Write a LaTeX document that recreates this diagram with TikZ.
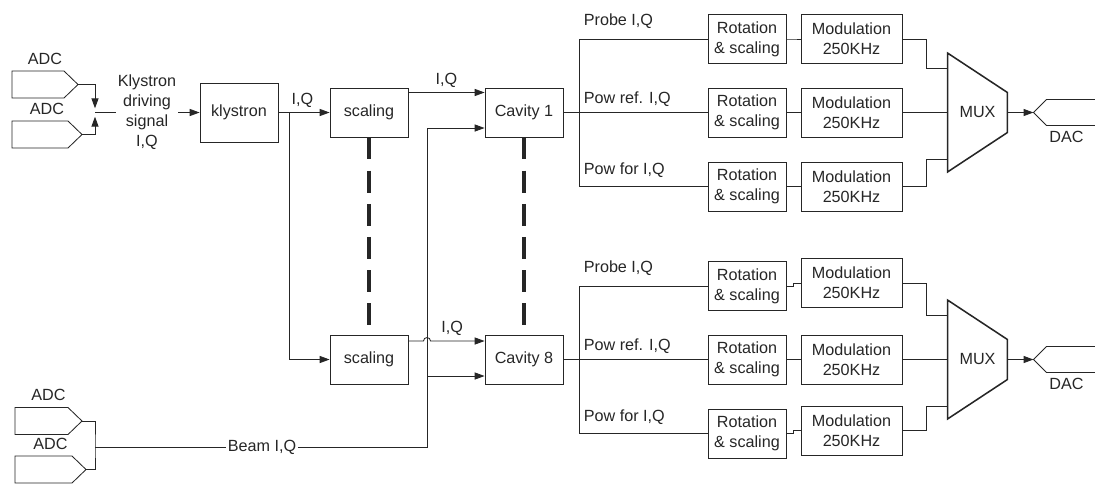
\documentclass[tikz,border=0pt]{standalone}
\usepackage{fontspec}
\setmainfont{Liberation Sans}
\usetikzlibrary{arrows.meta,positioning,calc}
\begin{document}
\begin{tikzpicture}[>={Triangle[length=7pt,width=5pt]},x=0.025cm,y=-0.025cm,font=\fontsize{11.5}{14.2}\selectfont,line width=0.6pt,color=black!85]
\tikzstyle{b}=[draw,align=center,minimum width=1.95cm,minimum height=1.225cm,inner sep=1pt]
\tikzstyle{rot}=[b,minimum width=1.95cm]
\tikzstyle{mod}=[b,minimum width=2.525cm]
\tikzstyle{dsh}=[line width=2.4pt,dash pattern=on 15.6pt off 8pt]
\tikzstyle{lbl}=[inner sep=1pt]
\useasboundingbox (0,0) rectangle (1095,483);
\foreach \n/\x/\y/\p in {1/12/84.5/78,2/12/134.5/82,3/15/421/82,4/15/469.5/86} {
  \draw (\x,\y-13.5) -- (\p-14,\y-13.5) -- (\p,\y) -- (\p-14,\y+13.5) -- (\x,\y+13.5) -- cycle;
  \coordinate (adc\n) at (\p,\y);
  \node (adcl\n) at ({(\x+\p)/2},\y-26) {ADC};
}
\coordinate (jk) at (95,112.5);
\coordinate (jb) at (95,447);
\draw[->,shorten >=3pt] (adc1) -| (jk);
\draw[->,shorten >=3pt] (adc2) -| (jk);
\node[lbl,align=center] (drv) at (147,112.5) {Klystron\\driving\\signal\\I,Q};
\draw (jk) -- (drv.west);
\node[b,minimum height=1.475cm] (kly) at (239,112.5) {klystron};
\draw[->] (drv.east) -- (kly.west);
\node[b] (sc1) at (369,112.5) {scaling};
\node[b] (sc8) at (369,359.5) {scaling};
\node[b] (cav1) at (524,112.5) {Cavity 1};
\node[b] (cav8) at (524,359.5) {Cavity 8};
\draw[->] (kly.east) -- node[above,pos=0.47] (lq1) {I,Q} (sc1.west);
\coordinate (jb1) at (289,112.5);
\draw[->] (jb1) |- (sc8.west);
\draw[->] ([yshift=-3.5pt]sc1.north east) -- node[above] (lq2) {I,Q} ([yshift=-3.5pt]cav1.north west);
\node[lbl] (beam) at (262,447) {Beam I,Q};
\draw (adc3) -| (jb) |- (adc4);
\draw (jb) -- (beam.west);
\coordinate (bv) at (427,128);
\coordinate (b8) at (427,376);
\coordinate (hop) at (427,341);
\draw (beam.east) -| (bv);
\draw[->] (bv) -- (cav1.west |- bv);
\draw[->] (b8) -- (cav8.west |- b8);
\draw[->] (sc8.east |- hop) -- ([xshift=-2.5pt]hop) arc[start angle=180,end angle=0,radius=2.5pt] -- node[above,pos=0.4] (lq3) {I,Q} (cav8.west |- hop);
\draw[dsh] (sc1.south) -- (sc8.north);
\draw[dsh] (cav1.south) -- (cav8.north);
\foreach \k/\o/\j in {1/0/0,8/247/3} {
  \foreach \r/\dy/\t/\ly/\jj in {1/-73.5/{Probe I,Q}/-18/1,2/0/{Pow ref. I,Q}/-13/0,3/74/{Pow for I,Q}/-16/1} {
    \node[rot] (rot\k\r) at (747,{112.5+\o+(\dy)}) {Rotation\\\& scaling};
    \node[mod] (mod\k\r) at (851.5,{112.5+\o+(\dy)-\j*\jj}) {Modulation\\250KHz};
    \draw (rot\k\r.east) -- ++(7,0) |- (mod\k\r.west);
    \node[lbl,anchor=west] (lb\k\r) at (582,{112.5+\o+(\dy)+(\ly)}) {\t};
  }
  \coordinate (br\k) at ($(cav\k.east)+(16,0)$);
  \draw (cav\k.east) -- (rot\k2.west);
  \draw (rot\k1.west) -| (br\k) |- (rot\k3.west);
  \node[minimum width=1.475cm,minimum height=2.95cm,inner sep=0] (mux\k) at (977.5,112.5+\o) {MUX};
  \draw[line width=1.1pt] (mux\k.north west) -- ($(mux\k.east)+(0,-20)$) -- ($(mux\k.east)+(0,20)$) -- (mux\k.south west) -- cycle;
  \coordinate (mi\k1) at ($(mux\k.north west)+(0,15)$);
  \coordinate (mi\k3) at ($(mux\k.south west)+(0,-13)$);
  \draw (mod\k1.east) -- ++(24,0) |- (mi\k1);
  \draw (mod\k2.east) -- (mux\k.west);
  \draw (mod\k3.east) -- ++(24,0) |- (mi\k3);
  \coordinate (dac\k) at ($(mux\k.east)+(26,0)$);
  \draw[->] (mux\k.east) -- (dac\k);
  \draw ($(dac\k)+(70,-13)$) -- ($(dac\k)+(13,-13)$) -- (dac\k) -- ($(dac\k)+(13,13)$) -- ($(dac\k)+(70,13)$);
  \node (dl\k) at ($(dac\k)+(33,24)$) {DAC};
}
\end{tikzpicture}
\end{document}
